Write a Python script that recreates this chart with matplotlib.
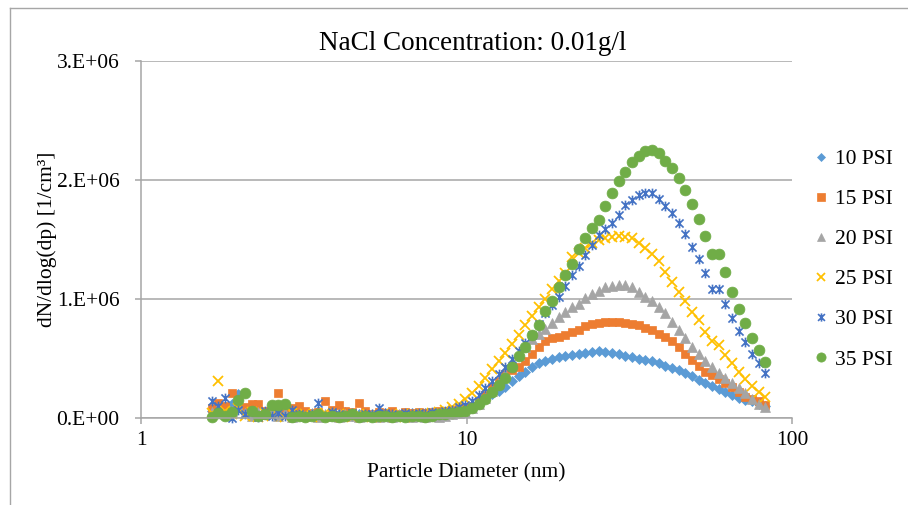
import matplotlib
matplotlib.use("Agg")
import matplotlib.pyplot as plt
import numpy as np
from matplotlib.path import Path
from matplotlib.lines import Line2D
from matplotlib.ticker import NullLocator

plt.rcParams['font.family'] = ['Liberation Serif', 'DejaVu Serif']

# Particle diameters (nm), one per size channel
diameter = [
    1.650, 1.730, 1.813, 1.901, 1.993, 2.089, 2.190, 2.296, 2.407, 2.523,
    2.645, 2.773, 2.907, 3.047, 3.194, 3.349, 3.510, 3.680, 3.858, 4.044,
    4.240, 4.444, 4.659, 4.884, 5.120, 5.368, 5.627, 5.899, 6.184, 6.483,
    6.796, 7.125, 7.469, 7.830, 8.208, 8.605, 9.020, 9.456, 9.913, 10.39,
    10.89, 11.42, 11.97, 12.55, 13.16, 13.79, 14.46, 15.16, 15.89, 16.66,
    17.46, 18.31, 19.19, 20.12, 21.09, 22.11, 23.18, 24.30, 25.47, 26.70,
    27.99, 29.35, 30.76, 32.25, 33.81, 35.44, 37.16, 38.95, 40.83, 42.81,
    44.87, 47.04, 49.32, 51.70, 54.20, 56.82, 59.56, 62.44, 65.46, 68.62,
    71.94, 75.42, 79.06, 82.88,
]

# dN/dlog(dp) in units of 1e6 per cm^3
psi10 = [
    0.06, 0.10, 0.05, 0.12, 0.20, 0.04, 0.08, 0.02, 0.05, 0.07,
    0.03, 0.06, 0.02, 0.05, 0.04, 0.03, 0.06, 0.02, 0.04, 0.03,
    0.05, 0.02, 0.03, 0.04, 0.02, 0.03, 0.04, 0.03, 0.02, 0.03,
    0.04, 0.03, 0.04, 0.03, 0.04, 0.05, 0.05, 0.06, 0.07,
    0.09, 0.12, 0.17, 0.20, 0.23, 0.26, 0.31, 0.35, 0.39, 0.43,
    0.46, 0.48, 0.495, 0.51, 0.52, 0.53, 0.54, 0.55, 0.555, 0.56,
    0.555, 0.545, 0.535, 0.525, 0.51, 0.50, 0.49, 0.475, 0.46, 0.44,
    0.42, 0.40, 0.38, 0.35, 0.32, 0.295, 0.265, 0.24, 0.22, 0.195,
    0.17, 0.155, 0.14, 0.12, 0.10,
]
psi15 = [
    0.08, 0.13, 0.10, 0.21, 0.12, 0.09, 0.12, 0.12, 0.06, 0.10,
    0.21, 0.05, 0.08, 0.10, 0.06, 0.04, 0.05, 0.14, 0.07, 0.11,
    0.06, 0.05, 0.13, 0.06, 0.03, 0.05, 0.04, 0.06, 0.03, 0.05,
    0.04, 0.05, 0.04, 0.05, 0.06, 0.06, 0.07, 0.08, 0.09,
    0.10, 0.14, 0.19, 0.26, 0.31, 0.37, 0.40, 0.43, 0.48, 0.54,
    0.60, 0.65, 0.67, 0.68, 0.70, 0.72, 0.74, 0.77, 0.79, 0.80,
    0.81, 0.81, 0.81, 0.80, 0.79, 0.78, 0.76, 0.74, 0.71, 0.68,
    0.645, 0.60, 0.54, 0.49, 0.44, 0.39, 0.36, 0.33, 0.29, 0.26,
    0.22, 0.18, 0.16, 0.14, 0.11,
]
psi20 = [
    0.05, 0.08, 0.03, 0.06, 0.10, 0.04, 0.02, 0.05, 0.03, 0.06,
    0.02, 0.04, 0.01, 0.03, 0.02, 0.04, 0.01, 0.03, 0.02, 0.01,
    0.03, 0.02, 0.01, 0.02, 0.03, 0.01, 0.02, 0.01, 0.03, 0.02,
    0.01, 0.02, 0.01, 0.02, 0.01, 0.02, 0.03, 0.04, 0.05,
    0.08, 0.12, 0.17, 0.23, 0.30, 0.37, 0.45, 0.53, 0.60, 0.66,
    0.71, 0.75, 0.80, 0.85, 0.89, 0.93, 0.96, 1.01, 1.04, 1.07,
    1.10, 1.11, 1.12, 1.12, 1.10, 1.06, 1.02, 0.98, 0.93, 0.88,
    0.81, 0.74, 0.67, 0.60, 0.54, 0.48, 0.43, 0.38, 0.34, 0.29,
    0.25, 0.21, 0.16, 0.12, 0.09,
]
psi25 = [
    0.04, 0.31, 0.06, 0.03, 0.08, 0.02, 0.05, 0.01, 0.04, 0.02,
    0.03, 0.01, 0.04, 0.02, 0.03, 0.01, 0.02, 0.04, 0.01, 0.03,
    0.02, 0.01, 0.03, 0.02, 0.01, 0.02, 0.01, 0.03, 0.02, 0.01,
    0.03, 0.02, 0.03, 0.04, 0.05, 0.07, 0.09, 0.12, 0.16,
    0.21, 0.27, 0.34, 0.41, 0.48, 0.55, 0.62, 0.70, 0.78, 0.86,
    0.93, 1.00, 1.08, 1.15, 1.22, 1.35, 1.39, 1.43, 1.47, 1.50,
    1.51, 1.52, 1.53, 1.52, 1.51, 1.47, 1.43, 1.38, 1.32, 1.23,
    1.145, 1.06, 0.98, 0.89, 0.82, 0.725, 0.65, 0.61, 0.53, 0.46,
    0.39, 0.33, 0.27, 0.22, 0.18,
]
psi30 = [
    0.14, 0.10, 0.17, 0.00, 0.07, 0.03, 0.05, 0.01, 0.06, 0.02,
    0.04, 0.02, 0.07, 0.03, 0.02, 0.03, 0.13, 0.02, 0.05, 0.03,
    0.02, 0.04, 0.02, 0.03, 0.03, 0.085, 0.04, 0.03, 0.02, 0.04,
    0.03, 0.04, 0.03, 0.05, 0.04, 0.06, 0.07, 0.09, 0.11,
    0.14, 0.19, 0.25, 0.31, 0.37, 0.43, 0.50, 0.56, 0.63, 0.70,
    0.79, 0.88, 0.95, 1.02, 1.11, 1.20, 1.28, 1.37, 1.45, 1.54,
    1.59, 1.64, 1.71, 1.79, 1.83, 1.87, 1.89, 1.89, 1.84, 1.78,
    1.72, 1.64, 1.55, 1.44, 1.34, 1.22, 1.08, 1.08, 0.96, 0.84,
    0.73, 0.64, 0.54, 0.46, 0.375,
]
psi35 = [
    0.01, 0.04, 0.02, 0.05, 0.15, 0.21, 0.06, 0.02, 0.03, 0.11,
    0.11, 0.12, 0.01, 0.02, 0.01, 0.02, 0.03, 0.01, 0.02, 0.01,
    0.02, 0.03, 0.01, 0.02, 0.01, 0.02, 0.02, 0.01, 0.02, 0.01,
    0.02, 0.02, 0.01, 0.02, 0.03, 0.03, 0.04, 0.05, 0.06,
    0.08, 0.12, 0.16, 0.22, 0.28, 0.34, 0.43, 0.52, 0.60, 0.70,
    0.78, 0.90, 0.98, 1.10, 1.20, 1.29, 1.42, 1.51, 1.60, 1.66,
    1.78, 1.89, 1.99, 2.07, 2.15, 2.20, 2.24, 2.25, 2.23, 2.16,
    2.10, 2.02, 1.92, 1.80, 1.67, 1.53, 1.38, 1.38, 1.23, 1.06,
    0.92, 0.80, 0.675, 0.57, 0.47,
]
SCALE = 1e6

series_labels = ['10 PSI', '15 PSI', '20 PSI', '25 PSI', '30 PSI', '35 PSI']
y_tick_values = [0, 1e6, 2e6, 3e6]
y_tick_labels = ['0.E+00', '1.E+06', '2.E+06', '3.E+06']
x_tick_values = [1, 10, 100]
x_tick_labels = ['1', '10', '100']

# Excel-style asterisk: an X with a vertical stroke through it
asterisk = Path(
    [(-1, -1), (1, 1), (-1, 1), (1, -1), (0, -1.2), (0, 1.2)],
    [Path.MOVETO, Path.LINETO, Path.MOVETO, Path.LINETO, Path.MOVETO, Path.LINETO],
)

styles = [
    dict(marker='D', color='#5B9BD5', ms=5.0, mew=0.5),
    dict(marker='s', color='#ED7D31', ms=6.4, mew=0.5),
    dict(marker='^', color='#A5A5A5', ms=7.2, mew=0.5),
    dict(marker='x', color='#FFC000', ms=7.0, mew=1.3),
    dict(marker=asterisk, color='#4472C4', ms=7.0, mew=1.2),
    dict(marker='o', color='#70AD47', ms=7.8, mew=0.5),
]

GRID = '#A6A6A6'
FS = 15.5

fig = plt.figure(figsize=(9.08, 5.05), dpi=100)
ax = fig.add_axes([141 / 908, 1 - 418 / 505, (792 - 141) / 908, (418 - 61) / 505])

d = np.array(diameter)
handles = []
for vals, label, st in zip([psi10, psi15, psi20, psi25, psi30, psi35], series_labels, styles):
    h, = ax.plot(d, np.array(vals) * SCALE, linestyle='none', marker=st['marker'],
                 color=st['color'], mec=st['color'], mfc=st['color'],
                 ms=st['ms'], mew=st['mew'], label=label, clip_on=False)
    handles.append(h)

ax.set_xscale('log')
ax.set_xlim(1, 100)
ax.set_ylim(0, 3e6)
ax.set_xticks(x_tick_values)
ax.set_xticklabels(x_tick_labels)
ax.xaxis.set_minor_locator(NullLocator())
ax.set_yticks(y_tick_values)
ax.set_yticklabels(y_tick_labels)

ax.grid(axis='y', color=GRID, lw=1.1)
ax.set_axisbelow(True)
for side in ('top', 'right'):
    ax.spines[side].set_visible(False)
for side in ('left', 'bottom'):
    ax.spines[side].set_color(GRID)
    ax.spines[side].set_linewidth(1.1)

ax.tick_params(axis='both', direction='out', length=4.5, width=1.1, color=GRID,
               labelsize=FS, labelcolor='black')
ax.tick_params(axis='y', pad=11)
ax.tick_params(axis='x', pad=5)

ax.set_xlabel('Particle Diameter (nm)', fontsize=FS)
ax.xaxis.set_label_coords(0.5, (418 - 463) / 357)
ax.set_ylabel('dN/dlog(dp) [1/cm³]', fontsize=FS)
ax.yaxis.set_label_coords((57 - 141) / 651, 0.5)

fig.text(473 / 908, 1 - 50 / 505, 'NaCl Concentration: 0.01g/l',
         ha='center', va='baseline', fontsize=19.5)

leg = fig.legend(handles, series_labels, loc='upper left',
                 bbox_to_anchor=(815 / 908, 1 - 149 / 505), frameon=False,
                 fontsize=FS, handlelength=0.6, handletextpad=0.35,
                 labelspacing=0.93, borderpad=0, borderaxespad=0, markerscale=0.85)

# chart-area outline (left and top edges)
fig.add_artist(Line2D([10 / 908, 10 / 908], [0, 1 - 8 / 505],
                      transform=fig.transFigure, color=GRID, lw=1))
fig.add_artist(Line2D([10 / 908, 1], [1 - 8 / 505, 1 - 8 / 505],
                      transform=fig.transFigure, color=GRID, lw=1))

fig.savefig('out.png', dpi=100)
